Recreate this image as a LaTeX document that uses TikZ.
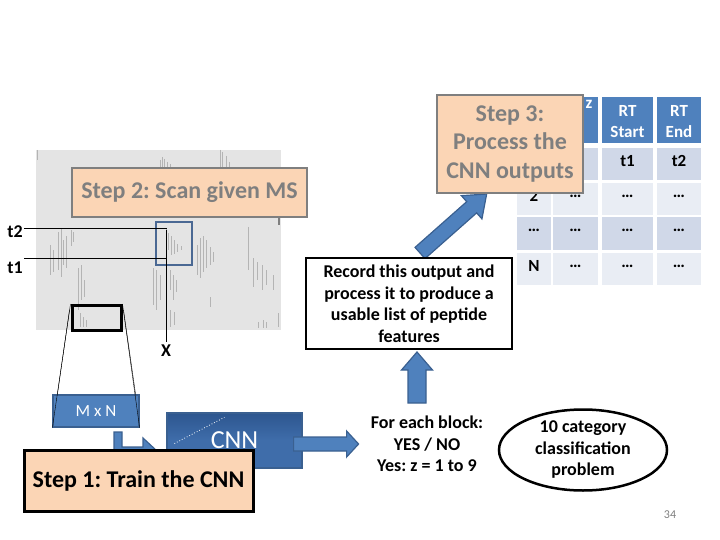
\documentclass[tikz,border=0pt]{standalone}
\usepackage{fontspec}
\setmainfont{Carlito}
\frenchspacing
\usetikzlibrary{positioning,shapes.geometric,calc}
\definecolor{peach}{HTML}{FBD5B5}
\definecolor{boxgray}{HTML}{7F7F7F}
\definecolor{msgray}{HTML}{E4E4E4}
\definecolor{peakgray}{HTML}{B4B4B4}
\definecolor{selblue}{HTML}{4A6893}
\definecolor{arrblue}{HTML}{4F81BD}
\definecolor{arredge}{HTML}{3A6090}
\definecolor{cnnblue}{HTML}{3F6DAA}
\definecolor{cnndark}{HTML}{2D568F}
\definecolor{rowdark}{HTML}{D0D8E8}
\definecolor{rowlight}{HTML}{E9EDF4}
\begin{document}
\begin{tikzpicture}[x=1pt,y=-1pt]
\tikzset{step box/.style={draw=boxgray, line width=2.5pt, fill=peach, text=boxgray, inner sep=0pt, align=center, font=\fontsize{24}{28.5}\selectfont\bfseries}}
\tikzset{plain text/.style={align=center, inner sep=1pt, font=\fontsize{18}{21.5}\selectfont\bfseries}}
\tikzset{label text/.style={font=\fontsize{18}{20}\selectfont\bfseries}}
\tikzset{block/.style={fill=arrblue, draw=arredge, line width=1.2pt}}
\tikzset{pics/fat arrow/.style n args={4}{code={
  \draw[block] (0,{-#2/2}) -- ({#1-#4},{-#2/2}) -- ({#1-#4},{-#3/2}) -- (#1,0) -- ({#1-#4},{#3/2}) -- ({#1-#4},{#2/2}) -- (0,{#2/2}) -- cycle;}}}
\tikzset{head cell/.style={fill=arrblue, minimum height=46pt, inner sep=0pt}}
\tikzset{body cell/.style={minimum height=32pt, inner sep=0pt}}
\tikzset{cell text/.style={font=\fontsize{17}{21}\selectfont\bfseries, align=center, inner sep=0pt}}
\tikzset{peak/.style={draw=peakgray, line width=0.5pt}}
\useasboundingbox (0,0) rectangle (720,540);
\fill[msgray] (36,150) rectangle (281,330);
\foreach \x/\a/\b in {37/150/160,160/160/168,162/157/168,164/159/168,167/162/168,170/164/168,220/150/168,222/152/168,226/156/168,229/162/168,
  50/245/275,53/250/272,58/232/270,61/228/277,63/240/265,66/236/268,71/230/246,73/232/242,78/268/310,81/265/300,84/280/297,
  166/228/257,168/233/250,171/236/255,174/240/254,177/244/252,181/246/250,197/245/275,200/238/278,203/236/272,206/240/268,210/247/265,213/252/262,
  153/268/305,156/270/310,160/275/300,170/270/290,173/275/300,176/280/292,170/310/327,174/312/325,210/297/307,
  248/227/270,253/258/287,257/262/280,262/265/290,266/270/285,273/275/290,258/322/328,263/320/328,266/322/328,278/313/327,80/313/327,83/317/327,86/320/327}
  \draw[peak] (\x,\a) -- (\x,\b);
\draw[boxgray, line width=1.5pt] (279,215) -- (279,225);
\node[step box, minimum width=235pt, minimum height=49pt] (s2) at (189.5,192.5) {Step 2: Scan given MS};
\node[draw=selblue, line width=2.5pt, minimum width=36pt, minimum height=43pt, inner sep=0pt] (sel) at (174,243.5) {};
\node[label text] (t2) at (15,232) {t2};
\node[label text] (t1) at (15,268) {t1};
\coordinate (t2l) at (24,228);
\coordinate (t2r) at (167,228);
\coordinate (t1l) at (24,258);
\coordinate (t1r) at (167,258);
\draw[thin] (t2l) -- (t2r);
\draw[thin] (t1l) -- (t1r);
\node[label text] (xl) at (166,351) {X};
\draw[thin] (xl.north) -- ++(0,-112);
\node[draw, line width=3pt, minimum width=49pt, minimum height=25pt, inner sep=0pt] (blk) at (96.5,318) {};
\node[fill=arrblue, draw=arredge, line width=1.2pt, minimum width=86pt, minimum height=32pt, text=white, font=\fontsize{17}{19}\selectfont] (mn) at (96,411) {M x N};
\draw[thin] (blk.north west) -- (mn.south west);
\draw[thin] ($(blk.north west)+(-1,6)$) -- ($(mn.north west)+(5,0)$);
\draw[thin] (blk.north east) -- (mn.south east);
\draw[thin] ($(blk.north east)+(1,6)$) -- ($(mn.north east)+(-4,0)$);
\draw[block] (114,432) -- (122,432) -- (122,447) -- (143,447) -- (143,438) -- (157,451) -- (143,464) -- (143,455) -- (114,455) -- cycle;
\node[draw=arredge, line width=1.2pt, top color=cnndark, bottom color=cnnblue, middle color=cnnblue, minimum width=135pt, minimum height=55pt, text=white, font=\fontsize{26}{28}\selectfont] (cnn) at (234.5,440.5) {CNN};
\draw[white, dotted, line width=0.8pt] ($(cnn.west)+(8,3)$) -- ($(cnn.north west)+(58,5)$);
\pic at ($(cnn.east)+(-9,3.5)$) {fat arrow={65}{14}{26}{12}};
\node[step box, draw=black, line width=3pt, text=black, minimum width=229pt, minimum height=61pt] (s1) at (138.5,480.5) {Step 1: Train the CNN};
\foreach \cx/\cw [count=\j] in {534/34,575.5/45,627.5/51,679/44}{
  \node[head cell, minimum width=\cw] (h\j) at (\cx,120) {};
  \foreach \ry/\rc [count=\i] in {164/rowdark,199/rowlight,233.5/rowdark,269/rowlight}
    \node[body cell, fill=\rc, minimum width=\cw] (c\i\j) at (\cx,\ry) {};
}
\node[cell text, text=white] (hz) at (589,104) {z};
\node[cell text, text=white, yshift=-2pt] (h3t) at (h3) {RT\\Start};
\node[cell text, text=white, yshift=-2pt] (h4t) at (h4) {RT\\End};
\foreach \i/\j/\t in {1/3/t1,1/4/t2,2/1/2,2/2/…,2/3/…,2/4/…,3/1/…,3/2/…,3/3/…,3/4/…,4/1/N,4/2/…,4/3/…,4/4/…}
  \node[cell text, yshift=3pt] (c\i\j t) at (c\i\j) {\t};
\pic[rotate=41.5] at (420,253) {fat arrow={89}{15}{31}{20}};
\node[draw, line width=2.5pt, fill=white, minimum width=206pt, minimum height=91pt, inner sep=0pt, plain text] (rec) at (409,303.5) {Record this output and\\process it to produce a\\usable list of peptide\\features};
\node[step box, minimum width=146pt, minimum height=98pt] (s3) at (510,144) {Step 3:\\Process the\\CNN outputs};
\pic[rotate=90] at (417,403) {fat arrow={51}{18}{31}{18}};
\node[plain text] (feb) at (427,444) {For each block:\\YES / NO\\Yes: z = 1 to 9};
\node[draw, ellipse, line width=2.5pt, minimum width=168pt, minimum height=81pt, inner sep=0pt] (cat) at (583,450) {};
\node[plain text] (catt) at (cat) {10 category\\classification\\problem};
\node[text=boxgray, font=\fontsize{12}{14}\selectfont] (num) at (670,515) {34};
\end{tikzpicture}
\end{document}
